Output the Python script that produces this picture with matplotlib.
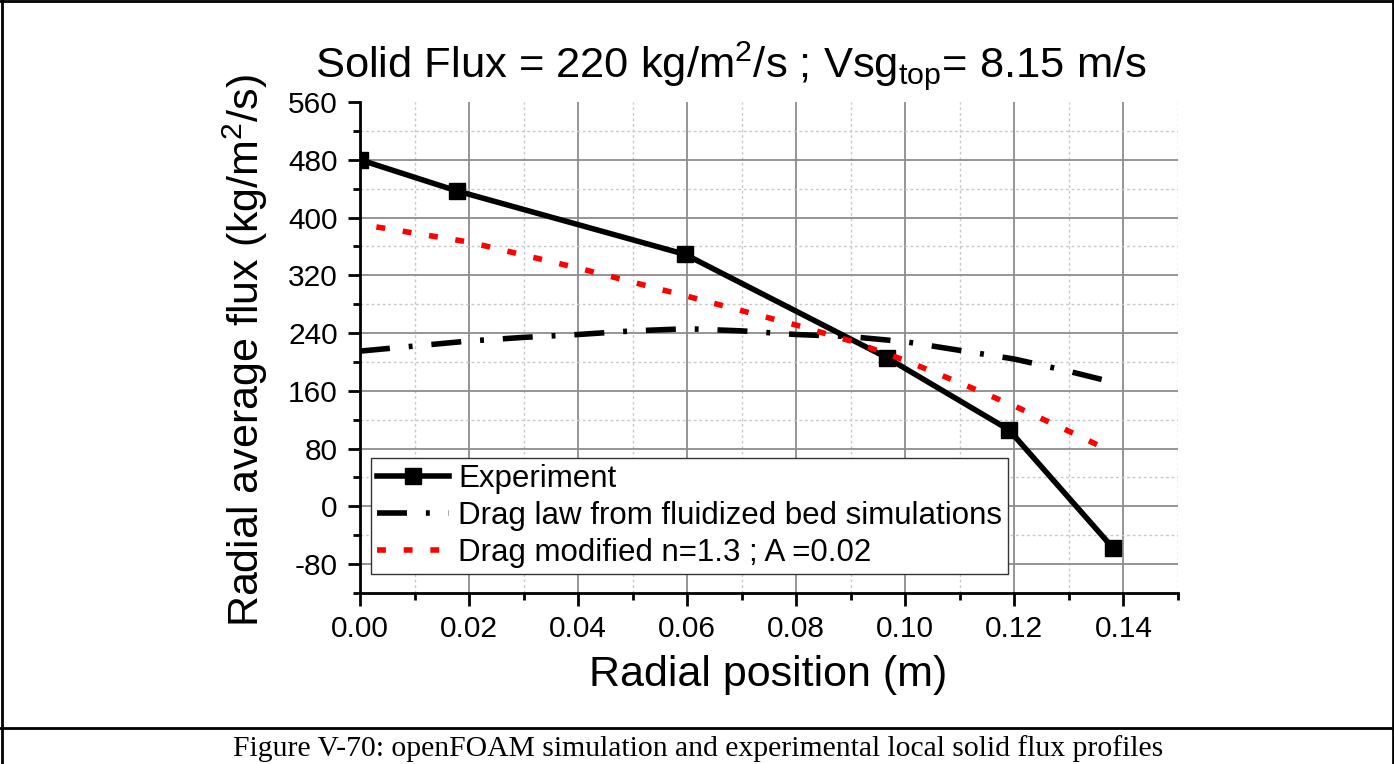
import matplotlib
matplotlib.use('Agg')
import matplotlib.pyplot as plt
from matplotlib.lines import Line2D
from matplotlib.ticker import MultipleLocator, FormatStrFormatter

# ---- data ----
exp_x = [0.0, 0.0177, 0.0596, 0.0966, 0.119, 0.138]
exp_y = [480, 437, 349, 206, 106, -57]

drag_x = [0.0, 0.01, 0.02, 0.03, 0.04, 0.05, 0.06, 0.07, 0.08, 0.09, 0.10, 0.11, 0.12, 0.13, 0.138]
drag_y = [215, 222, 229, 234, 238, 243, 246, 243, 238, 235, 228, 216, 204, 187, 172]

mod_x = [0.003, 0.02, 0.04, 0.06, 0.08, 0.09, 0.10, 0.11, 0.12, 0.13, 0.1375]
mod_y = [387, 366, 330, 291, 251, 229, 202, 171, 139, 104, 77]

labels = ["Experiment", "Drag law from fluidized bed simulations", "Drag modified n=1.3 ; A =0.02"]
title = r"Solid Flux = 220 kg/m$^{2}$/s ; Vsg$_{top}$= 8.15 m/s"
xlabel = "Radial position (m)"
ylabel = r"Radial average flux (kg/m$^{2}$/s)"
caption = "Figure V-70: openFOAM simulation and experimental local solid flux profiles"

plt.rcParams['font.family'] = ['Liberation Sans', 'DejaVu Sans']
plt.rcParams['mathtext.default'] = 'regular'
plt.rcParams['axes.unicode_minus'] = False

W, H = 1394, 764
fig = plt.figure(figsize=(W / 100, H / 100), dpi=100)

def fx(px):
    return px / W

def fy(py):
    return 1 - py / H

ax = fig.add_axes([fx(360), fy(593), (1178 - 360) / W, (593 - 102) / H])

ax.plot(exp_x, exp_y, color='black', lw=4.0, marker='s', ms=11, label=labels[0], zorder=3)
ax.plot(drag_x, drag_y, color='black', lw=4.0, ls=(0, (5.4, 3.4, 0.7, 3.4)),
        dash_capstyle='butt', label=labels[1], zorder=4)
ax.plot(mod_x, mod_y, color='#ff0000', lw=4.0, ls=(0, (1.6, 3.2)),
        dash_capstyle='butt', label=labels[2], zorder=5)

ax.set_xlim(0, 0.15)
ax.set_ylim(-120, 560)
ax.xaxis.set_minor_locator(MultipleLocator(0.01))
ax.yaxis.set_minor_locator(MultipleLocator(40))
ax.xaxis.set_major_formatter(FormatStrFormatter('%.2f'))
ax.set_xticks([0.0, 0.02, 0.04, 0.06, 0.08, 0.10, 0.12, 0.14])
ax.set_yticks([-80, 0, 80, 160, 240, 320, 400, 480, 560])

ax.grid(which='major', color='#8c8c8c', lw=1.3, ls='-', zorder=0)
ax.grid(which='minor', color='#c8c8c8', lw=1.0, ls=(0, (2, 2)), zorder=0)
ax.set_axisbelow(True)
# no grid line at the very top edge
ax.yaxis.get_gridlines()[-1].set_visible(False)

for s in ['top', 'right']:
    ax.spines[s].set_visible(False)
for s in ['left', 'bottom']:
    ax.spines[s].set_linewidth(2.0)

ax.tick_params(which='major', direction='out', length=9, width=2, labelsize=21.5, pad=7, colors='black')
ax.tick_params(which='minor', direction='out', length=5, width=2)

leg = ax.legend(loc='upper left', bbox_to_anchor=(fx(370.7), fy(457.7)),
                bbox_transform=fig.transFigure, borderaxespad=0,
                fontsize=22.5, frameon=True, fancybox=False, framealpha=1,
                edgecolor='#333333', handlelength=2.3, handletextpad=0.3,
                borderpad=0.2, labelspacing=0.22)
leg.get_frame().set_linewidth(1.0)
leg.set_zorder(10)

fig.text(fx(731), fy(77), title, fontsize=31.3, ha='center', va='baseline')
fig.text(fx(768), fy(686), xlabel, fontsize=31, ha='center', va='baseline')
fig.text(fx(245), fy(351), ylabel, fontsize=31, ha='center', va='center', rotation=90)
fig.text(fx(698), fy(756), caption, fontsize=21.3, ha='center', va='baseline',
         family='Liberation Serif')

# border lines
for (x0, y0, x1, y1) in [(1.5, 0, 1.5, H), (W - 1.5, 0, W - 1.5, H),
                         (0, 1, W, 1), (0, 728, W, 728)]:
    fig.add_artist(Line2D([fx(x0), fx(x1)], [fy(y0), fy(y1)], transform=fig.transFigure,
                          color='black', lw=2.0))

fig.savefig('out.png', dpi=100)
